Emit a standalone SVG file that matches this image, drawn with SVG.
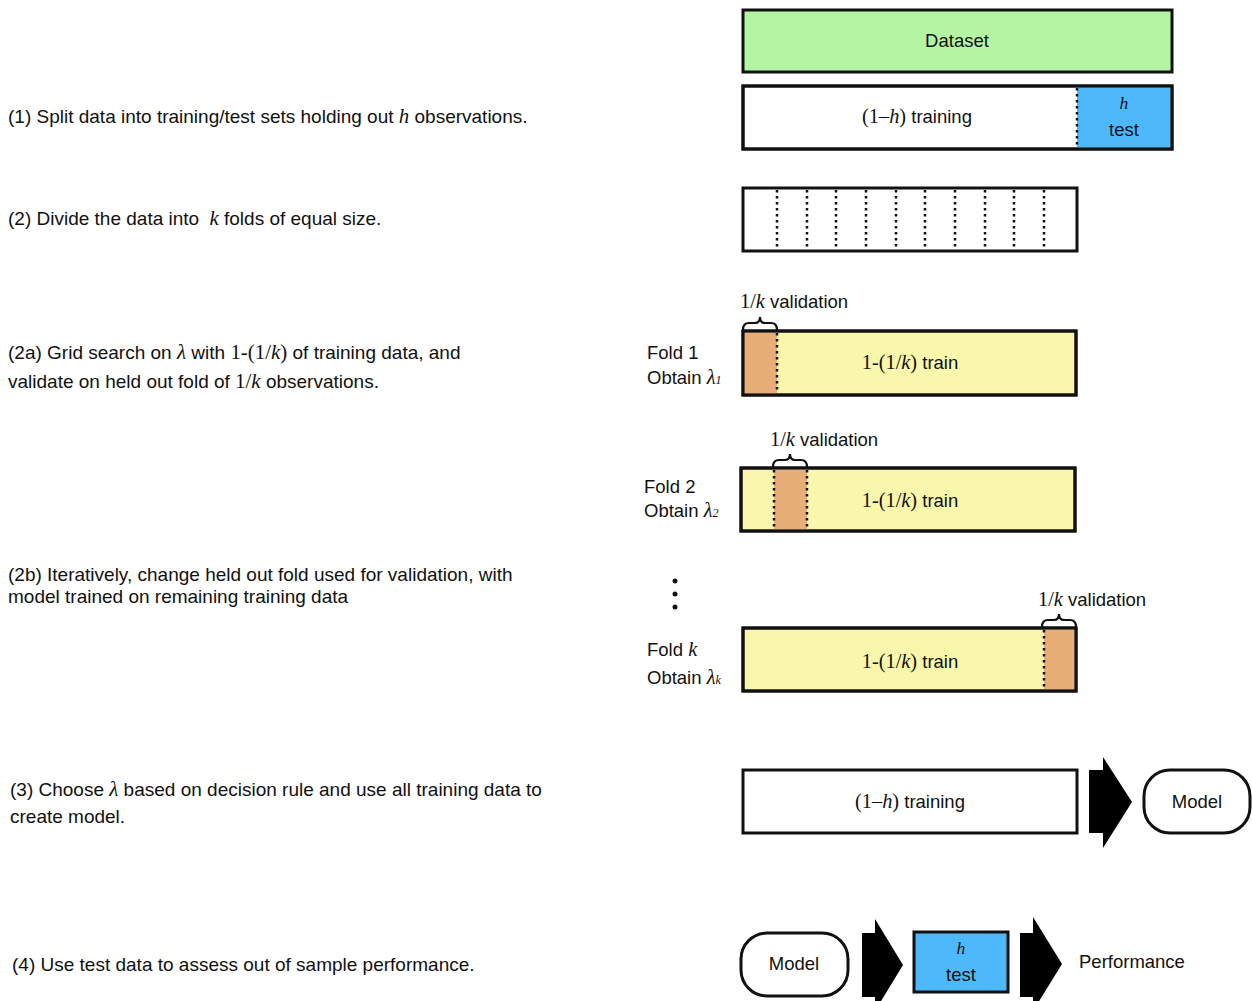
<svg xmlns="http://www.w3.org/2000/svg" width="1252" height="1001" viewBox="0 0 1252 1001">
<style>
.t{font-family:"Liberation Sans",Arial,sans-serif;font-size:18.5px;fill:#111}
.l{font-size:19px}
.m{font-family:"Liberation Serif","Times New Roman",serif;font-style:italic;font-size:1.1em}
.r{font-family:"Liberation Serif","Times New Roman",serif;font-size:1.1em}
.c{text-anchor:middle}
.box{stroke:#111;stroke-width:3}
.dot{stroke:#111;stroke-width:2.5;stroke-dasharray:2.5 3.5;fill:none}
.brace{stroke:#111;stroke-width:2.2;fill:none}
.arrow{fill:#000}
</style>
<rect width="1252" height="1001" fill="#fff"/>

<g id="steps">
<text class="t l" x="8" y="123">(1) Split data into training/test sets holding out <tspan class="m">h</tspan> observations.</text>
<text class="t l" x="8" y="225">(2) Divide the data into <tspan class="m" dx="5">k</tspan> folds of equal size.</text>
<text class="t l" x="8" y="359">(2a) Grid search on <tspan class="m">λ</tspan> with <tspan class="r">1-(1/</tspan><tspan class="m">k</tspan><tspan class="r">)</tspan> of training data, and</text>
<text class="t l" x="8" y="388">validate on held out fold of <tspan class="r">1/</tspan><tspan class="m">k</tspan> observations.</text>
<text class="t l" x="8" y="581">(2b) Iteratively, change held out fold used for validation, with</text>
<text class="t l" x="8" y="603">model trained on remaining training data</text>
<text class="t l" x="10" y="796">(3) Choose <tspan class="m">λ</tspan> based on decision rule and use all training data to</text>
<text class="t l" x="10" y="823">create model.</text>
<text class="t l" x="12" y="971">(4) Use test data to assess out of sample performance.</text>
</g>

<g id="dataset">
<rect class="box" x="743" y="10" width="429" height="62" fill="#b4f5a4"/>
<text class="t c" x="957" y="47">Dataset</text>
</g>

<g id="split">
<rect class="box" x="743" y="86" width="429" height="63" fill="#fff"/>
<rect x="1077" y="87.5" width="93.5" height="60" fill="#4eb9fa"/>
<line class="dot" x1="1077" y1="88" x2="1077" y2="148"/>
<rect x="743" y="86" width="429" height="63" fill="none" class="box"/>
<text class="t c" x="917" y="123"><tspan class="r">(1–</tspan><tspan class="m">h</tspan><tspan class="r">)</tspan> training</text>
<text class="t c m" x="1124" y="109">h</text>
<text class="t c" x="1124" y="136">test</text>
</g>

<g id="kfolds">
<rect class="box" x="743" y="188" width="334" height="63" fill="#fff"/>
<g class="dot">
<line x1="777" y1="190" x2="777" y2="250"/>
<line x1="807" y1="190" x2="807" y2="250"/>
<line x1="836" y1="190" x2="836" y2="250"/>
<line x1="866" y1="190" x2="866" y2="250"/>
<line x1="896" y1="190" x2="896" y2="250"/>
<line x1="925" y1="190" x2="925" y2="250"/>
<line x1="955" y1="190" x2="955" y2="250"/>
<line x1="985" y1="190" x2="985" y2="250"/>
<line x1="1014" y1="190" x2="1014" y2="250"/>
<line x1="1044" y1="190" x2="1044" y2="250"/>
</g>
</g>

<g id="fold1">
<rect class="box" x="743" y="331" width="333" height="64" fill="#f9f7ac"/>
<rect x="744.5" y="332.5" width="32.5" height="61" fill="#e7ae78"/>
<line class="dot" x1="777" y1="333" x2="777" y2="393"/>
<rect class="box" x="743" y="331" width="333" height="64" fill="none"/>
<path class="brace" d="M743,330 q0,-7 6,-7 h6 q5,0 5,-6 q0,6 5,6 h6 q6,0 6,7"/>
<text class="t" x="740" y="308"><tspan class="r">1/</tspan><tspan class="m">k</tspan> validation</text>
<text class="t c" x="910" y="369"><tspan class="r">1-(1/</tspan><tspan class="m">k</tspan><tspan class="r">)</tspan> train</text>
<text class="t" x="647" y="359">Fold 1</text>
<text class="t" x="647" y="384">Obtain <tspan class="m">λ</tspan><tspan class="m" style="font-size:12px">1</tspan></text>
</g>

<g id="fold2">
<rect class="box" x="741" y="468" width="334" height="63" fill="#f9f7ac"/>
<rect x="774" y="469.5" width="33" height="60" fill="#e7ae78"/>
<line class="dot" x1="774" y1="470" x2="774" y2="530"/>
<line class="dot" x1="807" y1="470" x2="807" y2="530"/>
<rect class="box" x="741" y="468" width="334" height="63" fill="none"/>
<path class="brace" d="M773,467 q0,-7 6,-7 h6 q5,0 5,-6 q0,6 5,6 h6 q6,0 6,7"/>
<text class="t" x="770" y="446"><tspan class="r">1/</tspan><tspan class="m">k</tspan> validation</text>
<text class="t c" x="910" y="507"><tspan class="r">1-(1/</tspan><tspan class="m">k</tspan><tspan class="r">)</tspan> train</text>
<text class="t" x="644" y="493">Fold 2</text>
<text class="t" x="644" y="517">Obtain <tspan class="m">λ</tspan><tspan class="m" style="font-size:12px">2</tspan></text>
</g>

<g id="ellipsis">
<circle cx="675" cy="581" r="2.5" fill="#111"/>
<circle cx="675" cy="594" r="2.5" fill="#111"/>
<circle cx="675" cy="607" r="2.5" fill="#111"/>
</g>

<g id="foldk">
<rect class="box" x="743" y="628" width="333" height="63" fill="#f9f7ac"/>
<rect x="1044" y="629.5" width="30.5" height="60" fill="#e7ae78"/>
<line class="dot" x1="1044" y1="630" x2="1044" y2="690"/>
<rect class="box" x="743" y="628" width="333" height="63" fill="none"/>
<path class="brace" d="M1042,627 q0,-7 6,-7 h6 q5,0 5,-6 q0,6 5,6 h6 q6,0 6,7"/>
<text class="t" x="1038" y="606"><tspan class="r">1/</tspan><tspan class="m">k</tspan> validation</text>
<text class="t c" x="910" y="668"><tspan class="r">1-(1/</tspan><tspan class="m">k</tspan><tspan class="r">)</tspan> train</text>
<text class="t" x="647" y="656">Fold <tspan class="m">k</tspan></text>
<text class="t" x="647" y="684">Obtain <tspan class="m">λ</tspan><tspan class="m" style="font-size:12px">k</tspan></text>
</g>

<g id="training3">
<rect class="box" x="743" y="770" width="334" height="63" fill="#fff"/>
<text class="t c" x="910" y="808"><tspan class="r">(1–</tspan><tspan class="m">h</tspan><tspan class="r">)</tspan> training</text>
</g>

<g id="model3">
<rect class="box" x="1144" y="770" width="106" height="63" rx="26" fill="#fff"/>
<text class="t c" x="1197" y="808">Model</text>
</g>

<g id="model4">
<rect class="box" x="741" y="933" width="107" height="63" rx="26" fill="#fff"/>
<text class="t c" x="794" y="970">Model</text>
</g>

<g id="test4">
<rect class="box" x="914" y="932" width="94" height="60" fill="#4eb9fa"/>
<text class="t c m" x="961" y="954">h</text>
<text class="t c" x="961" y="981">test</text>
</g>

<g id="performance">
<text class="t" x="1079" y="968">Performance</text>
</g>

<g id="connectors">
<path class="arrow" d="M1089,770 H1103 V757 L1132,802 L1103,848 V833 H1089 Z"/>
<path class="arrow" d="M862,933 H875 V919 L903,965 L875,1011 V997 H862 Z"/>
<path class="arrow" d="M1020,933 H1033 V917 L1062,964 L1033,1011 V997 H1020 Z"/>
</g>
</svg>
